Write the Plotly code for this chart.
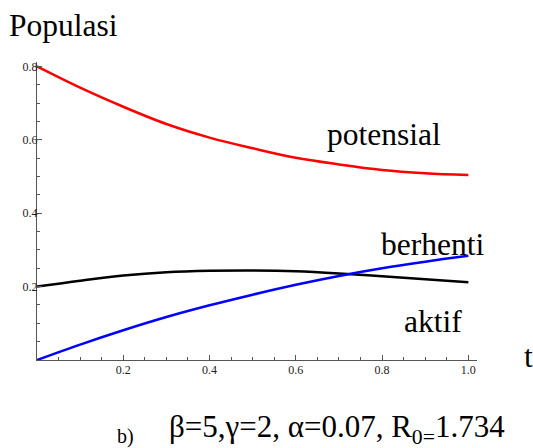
import numpy as np
import plotly.graph_objects as go

# Data
t = [0.0, 0.1, 0.2, 0.3, 0.4, 0.5, 0.6, 0.7, 0.8, 0.9, 1.0]
potensial = [0.800, 0.742, 0.690, 0.643, 0.606, 0.577, 0.551, 0.533, 0.518, 0.509, 0.504]
berhenti = [0.200, 0.216, 0.230, 0.239, 0.243, 0.244, 0.242, 0.236, 0.228, 0.220, 0.212]
aktif = [0.000, 0.042, 0.081, 0.117, 0.149, 0.178, 0.205, 0.229, 0.250, 0.268, 0.284]

x_tickvals = [0.2, 0.4, 0.6, 0.8, 1.0]
x_ticktext = ["0.2", "0.4", "0.6", "0.8", "1.0"]
y_tickvals = [0.2, 0.4, 0.6, 0.8]
y_ticktext = ["0.2", "0.4", "0.6", "0.8"]

SERIF = "Liberation Serif"
AX = "#555555"

fig = go.Figure()
fig.add_trace(go.Scatter(x=t, y=potensial, mode="lines", line=dict(color="#ff0000", width=2.5, shape="spline"), showlegend=False))
fig.add_trace(go.Scatter(x=t, y=berhenti, mode="lines", line=dict(color="#000000", width=2.5, shape="spline"), showlegend=False))
fig.add_trace(go.Scatter(x=t, y=aktif, mode="lines", line=dict(color="#0000ff", width=2.5, shape="spline"), showlegend=False))

minor_x = [v for v in np.round(np.arange(0.05, 1.0001, 0.05), 2) if abs(v / 0.2 - round(v / 0.2)) > 1e-6]
minor_y = [v for v in np.round(np.arange(0.05, 0.8001, 0.05), 2) if abs(v / 0.2 - round(v / 0.2)) > 1e-6]

fig.update_xaxes(
    range=[0, 1.02], showgrid=False, zeroline=False, showline=True, linecolor=AX, linewidth=1.2,
    tickmode="array", tickvals=x_tickvals, ticktext=x_ticktext,
    ticks="inside", ticklen=5, tickwidth=1, tickcolor=AX, ticklabelstandoff=-2,
    tickfont=dict(family=SERIF, size=12, color="#222222"),
    minor=dict(tickmode="array", tickvals=minor_x, ticks="inside", ticklen=3, tickwidth=1, tickcolor=AX, showgrid=False),
)
fig.update_yaxes(
    range=[0, 0.812], showgrid=False, zeroline=False, showline=True, linecolor=AX, linewidth=1.2,
    tickmode="array", tickvals=y_tickvals, ticktext=y_ticktext,
    ticks="inside", ticklen=5, tickwidth=1, tickcolor=AX, ticklabelstandoff=-4,
    tickfont=dict(family=SERIF, size=12, color="#222222"),
    minor=dict(tickmode="array", tickvals=minor_y, ticks="inside", ticklen=3, tickwidth=1, tickcolor=AX, showgrid=False),
)

big = dict(family=SERIF, size=31.5, color="#000000")
annos = [
    dict(x=0.805, y=0.615, xref="x", yref="y", text="potensial", font=big),
    dict(x=0.917, y=0.314, xref="x", yref="y", text="berhenti", font=big),
    dict(x=0.919, y=0.104, xref="x", yref="y", text="aktif", font=big),
    dict(x=1.117, y=0.013, xref="paper", yref="paper", text="t", font=big),
    dict(x=0.061, y=1.1225, xref="paper", yref="paper", text="Populasi", font=big),
    dict(x=0.202, y=-0.258, xref="paper", yref="paper", text="b)", font=dict(family=SERIF, size=20, color="#000000")),
    dict(x=0.681, y=-0.232, xref="paper", yref="paper", text="β=5,γ=2, α=0.07, R<sub>0=</sub>1.734", font=dict(family=SERIF, size=31, color="#000000")),
]
for a in annos:
    a.update(showarrow=False, xanchor="center", yanchor="middle")
    fig.add_annotation(**a)

fig.update_layout(
    width=533, height=448,
    margin=dict(l=37, r=56, t=62, b=88),
    paper_bgcolor="white", plot_bgcolor="white",
)
fig.write_html("out.html", config={"displayModeBar": False},
               post_script="document.body.style.margin='0';document.body.style.overflow='hidden';")
